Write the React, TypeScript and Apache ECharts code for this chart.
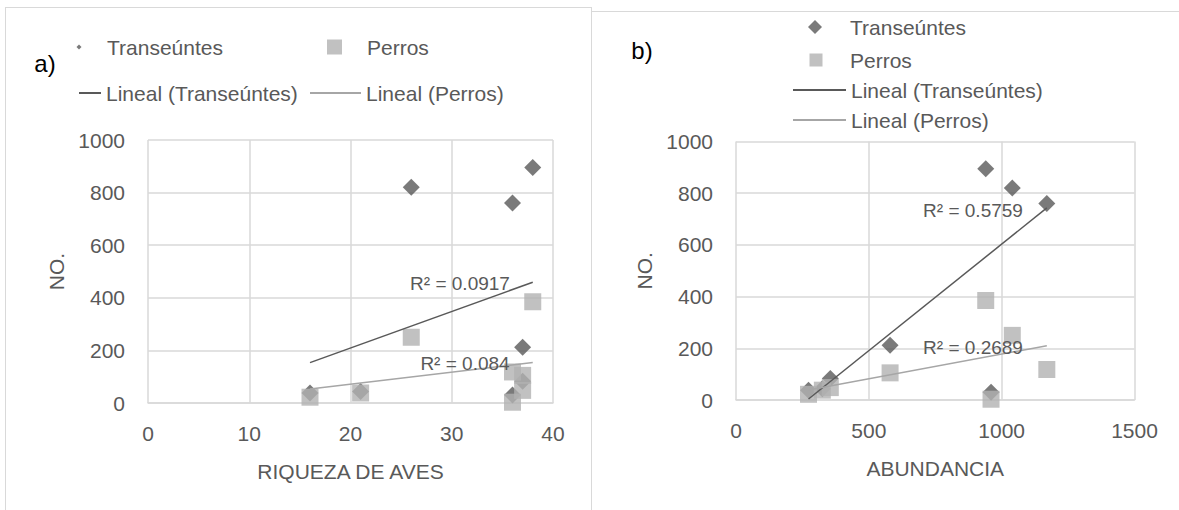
import React, { useEffect, useRef } from "react";
import * as echarts from "echarts";

// ---- data (one entry per site) ----
const riqueza = [38, 26, 36, 37, 37, 21, 16, 36];
const abundancia = [940, 1040, 1170, 580, 355, 325, 273, 960];
const transeuntes = [895, 820, 760, 212, 83, 44, 38, 30];
const perros = [385, 250, 118, 105, 48, 38, 22, 3];

const r2LabelsRiqueza = ["R² = 0.0917", "R² = 0.084"];
const r2LabelsAbundancia = ["R² = 0.5759", "R² = 0.2689"];

const yTickMax = 1000;
const yTickStep = 200;
const xTicksRiqueza = { max: 40, step: 10 };
const xTicksAbundancia = { max: 1500, step: 500 };

const seriesNames = ["Transeúntes", "Perros", "Lineal (Transeúntes)", "Lineal (Perros)"];

const FONT = "'Liberation Sans', Arial, sans-serif";
const TXT = "#595959";
const GRID = "#d9d9d9";
const DARK = "#595959";
const LIGHT = "#b2b2b2";
const LIGHT_LINE = "#a6a6a6";

// legend icons: invisible move-to corners fix the icon box, the visible shape sits centred in it
function diamondIcon(w: number, h: number, s: number) {
  const cx = w / 2;
  const cy = h / 2;
  const r = s / 2;
  return `path://M0,0M${w},${h}M${cx - r},${cy}L${cx},${cy - r}L${cx + r},${cy}L${cx},${cy + r}Z`;
}
function squareIcon(w: number, h: number, s: number) {
  const x0 = w / 2 - s / 2;
  const y0 = h / 2 - s / 2;
  return `path://M0,0M${w},${h}M${x0},${y0}L${x0 + s},${y0}L${x0 + s},${y0 + s}L${x0},${y0 + s}Z`;
}

function fitLine(xs: number[], ys: number[]) {
  const n = xs.length;
  const mx = xs.reduce((a, b) => a + b, 0) / n;
  const my = ys.reduce((a, b) => a + b, 0) / n;
  let sxy = 0;
  let sxx = 0;
  for (let i = 0; i < n; i++) {
    sxy += (xs[i] - mx) * (ys[i] - my);
    sxx += (xs[i] - mx) * (xs[i] - mx);
  }
  const b = sxy / sxx;
  const a = my - b * mx;
  const lo = Math.min(...xs);
  const hi = Math.max(...xs);
  return [
    [lo, a + b * lo],
    [hi, a + b * hi],
  ];
}

type LegendDef = { name: string; left: number; cy: number; w: number; h: number; icon?: string };
type Cfg = {
  xs: number[];
  xMax: number;
  xStep: number;
  xName: string;
  grid: { left: number; top: number; width: number; height: number };
  legends: LegendDef[];
  r2: { text: string; x: number; y: number }[];
  tag: { text: string; x: number; y: number };
};

function buildOption(cfg: Cfg) {
  const pts = (ys: number[]) => cfg.xs.map((x, i) => [x, ys[i]]);
  return {
    animation: false,
    backgroundColor: "transparent",
    grid: { ...cfg.grid, containLabel: false, outerBoundsMode: "none" },
    legend: cfg.legends.map((l) => {
      const isLine = !l.icon;
      return {
        data: [l.icon ? { name: l.name, icon: l.icon } : { name: l.name }],
        left: l.left,
        top: l.cy - 12,
        padding: 0,
        itemWidth: l.w,
        itemHeight: isLine ? 2 : l.h,
        itemGap: 0,
        selectedMode: false,
        symbolKeepAspect: false,
        itemStyle: isLine ? { opacity: 0 } : {},
        textStyle: { color: TXT, fontSize: 21, fontFamily: FONT, lineHeight: 24 },
      };
    }),
    xAxis: {
      type: "value",
      min: 0,
      max: cfg.xMax,
      interval: cfg.xStep,
      name: cfg.xName,
      nameLocation: "middle",
      nameGap: 58,
      nameTextStyle: { color: TXT, fontSize: 21, fontFamily: FONT },
      axisLine: { show: true, lineStyle: { color: GRID, width: 1.5 } },
      axisTick: { show: false },
      axisLabel: {
        color: TXT,
        fontSize: 21,
        fontFamily: FONT,
        margin: 20,
        formatter: (v: number) => String(v),
      },
      splitLine: { show: true, lineStyle: { color: GRID, width: 1.5 } },
    },
    yAxis: {
      type: "value",
      min: 0,
      max: yTickMax,
      interval: yTickStep,
      name: "NO.",
      nameLocation: "middle",
      nameRotate: 90,
      nameGap: 81,
      nameTextStyle: { color: TXT, fontSize: 21, fontFamily: FONT },
      axisLine: { show: false },
      axisTick: { show: false },
      axisLabel: {
        color: TXT,
        fontSize: 21,
        fontFamily: FONT,
        margin: 23,
        formatter: (v: number) => String(v),
      },
      splitLine: { show: true, lineStyle: { color: GRID, width: 1.5 } },
    },
    series: [
      {
        name: seriesNames[0],
        type: "scatter",
        symbol: "diamond",
        symbolSize: 17,
        itemStyle: { color: DARK },
        data: pts(transeuntes),
        z: 2,
      },
      {
        name: seriesNames[1],
        type: "scatter",
        symbol: "rect",
        symbolSize: 17,
        itemStyle: { color: LIGHT },
        data: pts(perros),
        z: 3,
      },
      {
        name: seriesNames[2],
        type: "line",
        symbol: "none",
        lineStyle: { color: DARK, width: 1.5 },
        itemStyle: { color: DARK },
        data: fitLine(cfg.xs, transeuntes),
        z: 4,
      },
      {
        name: seriesNames[3],
        type: "line",
        symbol: "none",
        lineStyle: { color: LIGHT_LINE, width: 1.5 },
        itemStyle: { color: LIGHT_LINE },
        data: fitLine(cfg.xs, perros),
        z: 4,
      },
    ],
    graphic: [
      ...cfg.r2.map((r) => ({
        type: "text",
        x: r.x,
        y: r.y,
        z: 10,
        style: {
          text: r.text,
          fill: TXT,
          font: `19px ${FONT}`,
          textAlign: "center",
          textVerticalAlign: "middle",
        },
      })),
      {
        type: "text",
        x: cfg.tag.x,
        y: cfg.tag.y,
        style: {
          text: cfg.tag.text,
          fill: "#000000",
          font: `24px ${FONT}`,
          textAlign: "center",
          textVerticalAlign: "middle",
        },
      },
    ],
  };
}

const leftCfg: Cfg = {
  xs: riqueza,
  xMax: xTicksRiqueza.max,
  xStep: xTicksRiqueza.step,
  xName: "RIQUEZA DE AVES",
  grid: { left: 148, top: 140, width: 405, height: 263 },
  legends: [
    { name: seriesNames[0], left: 56, cy: 47, w: 46, h: 6, icon: diamondIcon(46, 6, 5) },
    { name: seriesNames[1], left: 307, cy: 47, w: 55, h: 15, icon: squareIcon(55, 15, 15) },
    { name: seriesNames[2], left: 78, cy: 93, w: 22, h: 14 },
    { name: seriesNames[3], left: 309, cy: 93, w: 51, h: 14 },
  ],
  r2: [
    { text: r2LabelsRiqueza[0], x: 460, y: 283 },
    { text: r2LabelsRiqueza[1], x: 465, y: 363 },
  ],
  tag: { text: "a)", x: 45, y: 63 },
};

const rightCfg: Cfg = {
  xs: abundancia,
  xMax: xTicksAbundancia.max,
  xStep: xTicksAbundancia.step,
  xName: "ABUNDANCIA",
  grid: { left: 145, top: 141.5, width: 398.5, height: 258.5 },
  legends: [
    { name: seriesNames[0], left: 194, cy: 27, w: 60, h: 14, icon: diamondIcon(60, 14, 14) },
    { name: seriesNames[1], left: 196, cy: 60, w: 58, h: 13, icon: squareIcon(58, 13, 13) },
    { name: seriesNames[2], left: 201, cy: 90, w: 53, h: 14 },
    { name: seriesNames[3], left: 201, cy: 120, w: 53, h: 14 },
  ],
  r2: [
    { text: r2LabelsAbundancia[0], x: 382, y: 210 },
    { text: r2LabelsAbundancia[1], x: 382, y: 347 },
  ],
  tag: { text: "b)", x: 51, y: 50 },
};

export default function App() {
  const leftRef = useRef<HTMLDivElement>(null);
  const rightRef = useRef<HTMLDivElement>(null);

  useEffect(() => {
    const c1 = echarts.init(leftRef.current!, null, { renderer: "svg" });
    const c2 = echarts.init(rightRef.current!, null, { renderer: "svg" });
    c1.setOption(buildOption(leftCfg) as any);
    c2.setOption(buildOption(rightCfg) as any);
    return () => {
      c1.dispose();
      c2.dispose();
    };
  }, []);

  const border = `1px solid ${GRID}`;
  return (
    <div
      style={{
        position: "absolute",
        left: 0,
        top: 0,
        width: 1179,
        height: 510,
        overflow: "hidden",
        background: "#ffffff",
      }}
    >
      <div
        style={{
          position: "absolute",
          left: 5,
          top: 7,
          width: 587,
          height: 520,
          borderLeft: border,
          borderTop: border,
          borderRight: border,
          boxSizing: "border-box",
        }}
      />
      <div
        style={{
          position: "absolute",
          left: 591,
          top: 11,
          width: 600,
          height: 520,
          borderLeft: border,
          borderTop: border,
          boxSizing: "border-box",
        }}
      />
      <div ref={leftRef} style={{ position: "absolute", left: 0, top: 0, width: 591, height: 510 }} />
      <div ref={rightRef} style={{ position: "absolute", left: 591, top: 0, width: 588, height: 510 }} />
    </div>
  );
}
